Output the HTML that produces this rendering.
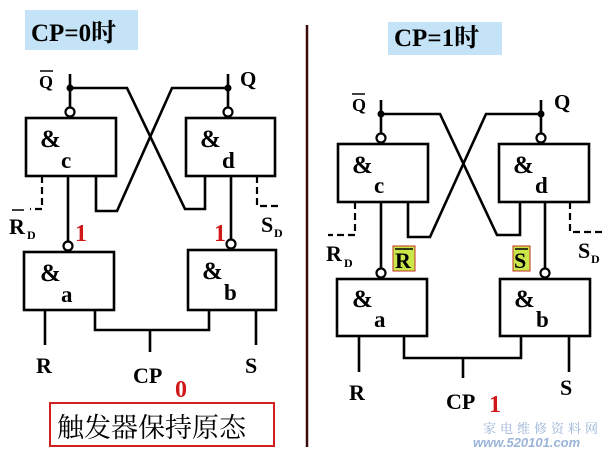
<!DOCTYPE html>
<html><head><meta charset="utf-8"><style>
html,body{margin:0;padding:0;background:#fff;}
svg{display:block;}
text{font-family:"Liberation Serif","Noto Serif CJK SC",serif;font-weight:bold;}
</style></head><body>
<svg width="602" height="449" viewBox="0 0 602 449" xmlns="http://www.w3.org/2000/svg">
<g stroke="#000" stroke-width="2.6" fill="none">
<rect x="26" y="118" width="90" height="58"/>
<rect x="186" y="118" width="89" height="58"/>
<rect x="24" y="252" width="90" height="58"/>
<rect x="188" y="250" width="88" height="60"/>
<line x1="70" y1="74" x2="70" y2="108"/>
<line x1="228" y1="74" x2="228" y2="108"/>
<polyline points="70,88 127,88 185,209 205,209 205,176"/>
<polyline points="228,88 172,88 117,211 96,211 96,176"/>
<line x1="68" y1="176" x2="68" y2="242"/>
<line x1="231" y1="176" x2="231" y2="240"/>
<line x1="45" y1="310" x2="45" y2="345"/>
<polyline points="95,310 95,330 209,330 209,310"/>
<line x1="150" y1="330" x2="150" y2="352"/>
<line x1="256" y1="310" x2="256" y2="345"/>
<rect x="338" y="144" width="90" height="58"/>
<rect x="499" y="144" width="90" height="58"/>
<rect x="337" y="279" width="90" height="57"/>
<rect x="500" y="279" width="90" height="57"/>
<line x1="381" y1="100" x2="381" y2="134"/>
<line x1="541" y1="100" x2="541" y2="134"/>
<polyline points="381,114 440,114 497,235 520,235 520,202"/>
<polyline points="541,114 486,114 430,237 408,237 408,202"/>
<line x1="381" y1="202" x2="381" y2="269"/>
<line x1="545" y1="202" x2="545" y2="269"/>
<line x1="359" y1="336" x2="359" y2="372"/>
<polyline points="404,336 404,358 521,358 521,336"/>
<line x1="463" y1="358" x2="463" y2="378"/>
<line x1="569" y1="336" x2="569" y2="372"/>
</g>
<g stroke="#000" stroke-width="2.2" fill="none" stroke-dasharray="7,4">
<polyline points="42,176 42,209 30,209"/>
<polyline points="257,176 257,206 282,206"/>
<polyline points="355,202 355,235 328,235"/>
<polyline points="570,202 570,232 602,232"/>
</g>
<g stroke="#000" stroke-width="2.2" fill="#fff">
<circle cx="70" cy="112" r="4.5"/><circle cx="228" cy="112" r="4.5"/>
<circle cx="68" cy="246" r="4.5"/><circle cx="231" cy="244" r="4.5"/>
<circle cx="381" cy="138" r="4.5"/><circle cx="541" cy="138" r="4.5"/>
<circle cx="381" cy="273" r="4.5"/><circle cx="545" cy="273" r="4.5"/>
</g>
<g fill="#000"><circle cx="70" cy="88" r="3.5"/><circle cx="228" cy="88" r="3.5"/><circle cx="381" cy="114" r="3.5"/><circle cx="541" cy="114" r="3.5"/></g>
<rect x="25" y="10" width="113" height="40" fill="#c5e3f6"/>
<text x="31" y="41" font-size="25">CP=0时</text>
<rect x="388" y="22" width="114" height="33" fill="#c5e3f6"/>
<text x="394" y="46" font-size="25">CP=1时</text>
<line x1="307" y1="25" x2="307" y2="447" stroke="#3a0a0a" stroke-width="2.5"/>
<g font-size="22">
<text x="39" y="88" font-size="18">Q</text><line x1="40" y1="71" x2="53" y2="71" stroke="#000" stroke-width="1.5"/>
<text x="240" y="86" font-size="21">Q</text>
<text x="40" y="147" font-size="25">&amp;</text><text x="61" y="168" font-size="23">c</text>
<text x="200" y="147" font-size="25">&amp;</text><text x="222" y="168" font-size="23">d</text>
<text x="40" y="281" font-size="25">&amp;</text><text x="61" y="302" font-size="23">a</text>
<text x="202" y="279" font-size="25">&amp;</text><text x="224" y="300" font-size="23">b</text>
<text x="9" y="234">R</text><text x="27" y="239" font-size="12">D</text><line x1="12" y1="210" x2="24" y2="210" stroke="#000" stroke-width="1.5"/>
<text x="261" y="232">S</text><text x="274" y="237" font-size="12">D</text>
<text x="75" y="241" fill="#d01818" font-size="24">1</text>
<text x="214" y="241" fill="#d01818" font-size="24">1</text>
<text x="36" y="373">R</text>
<text x="133" y="383">CP</text>
<text x="175" y="397" fill="#d01818" font-size="24">0</text>
<text x="245" y="373">S</text>
<text x="352" y="111" font-size="18">Q</text><line x1="352" y1="94" x2="365" y2="94" stroke="#000" stroke-width="1.5"/>
<text x="554" y="109" font-size="21">Q</text>
<text x="352" y="173" font-size="25">&amp;</text><text x="374" y="193" font-size="23">c</text>
<text x="513" y="173" font-size="25">&amp;</text><text x="535" y="193" font-size="23">d</text>
<text x="352" y="307" font-size="25">&amp;</text><text x="374" y="327" font-size="23">a</text>
<text x="514" y="307" font-size="25">&amp;</text><text x="536" y="327" font-size="23">b</text>
<text x="326" y="261">R</text><text x="344" y="267" font-size="12">D</text>
<text x="578" y="258">S</text><text x="591" y="263" font-size="12">D</text>
<rect x="393" y="246" width="22" height="25" fill="#c8e84a" stroke="#c03020" stroke-width="1"/>
<text x="395" y="268">R</text><line x1="395" y1="249" x2="413" y2="249" stroke="#000" stroke-width="1.5"/>
<rect x="513" y="246" width="17" height="25" fill="#c8e84a" stroke="#c03020" stroke-width="1"/>
<text x="514" y="268">S</text><line x1="515" y1="249" x2="528" y2="249" stroke="#000" stroke-width="1.5"/>
<text x="349" y="400">R</text>
<text x="446" y="409">CP</text>
<text x="489" y="412" fill="#d01818" font-size="24">1</text>
<text x="560" y="395">S</text>
</g>
<rect x="50" y="403" width="224" height="43" fill="none" stroke="#d02020" stroke-width="2"/>
<text x="57" y="437" font-size="27" style="font-family:'Noto Serif CJK SC',serif;font-weight:normal">触发器保持原态</text>
<text x="483" y="433" font-size="13" fill="#9ab4d8" style="font-family:'Noto Serif CJK SC',serif;font-weight:normal" letter-spacing="4">家电维修资料网</text>
<text x="473" y="447" font-size="13" fill="#9ab4d8" font-style="italic" style="font-family:'Liberation Sans',sans-serif">www.520101.com</text>
</svg>
</body></html>
